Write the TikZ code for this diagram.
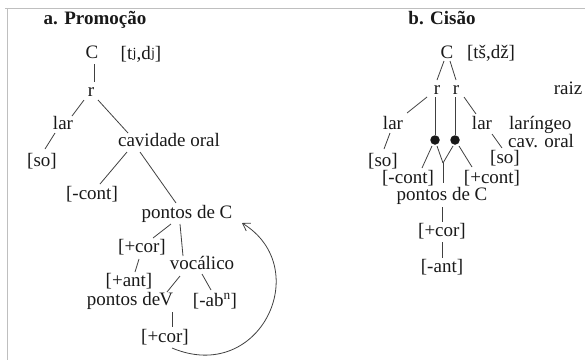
\documentclass[tikz,border=0pt]{standalone}
\usepackage{fontspec}
\setmainfont{Liberation Serif}
\usetikzlibrary{arrows.meta}
\begin{document}
\begin{tikzpicture}[x=1pt,y=-1pt,
  lbl/.style={inner sep=0pt, font=\fontsize{19}{19}\selectfont, text height=12pt, text depth=4pt, text=black!90},
  ttl/.style={inner sep=0pt, font=\fontsize{19}{19}\selectfont\bfseries, text height=12pt, text depth=4pt, text=black!90},
  edge/.style={draw=black!75, line width=0.8pt},
  dotnode/.style={circle, fill=black!90, inner sep=0pt, minimum size=9.5pt},
  framel/.style={draw=black!25, line width=1pt}]
\useasboundingbox (0,0) rectangle (585,360);
% frame
\draw[framel] (5,8) -- (585,8);
\draw[framel] (7,8) -- (7,360);

% ---------- a. Promocao ----------
\node[ttl] (tA) at (95,20) {a. Promoção};
\node[lbl] (C1) at (92,54) {C};
\node[lbl] (tj) at (141,55) {[t\kern0.3pt\raisebox{2pt}{\fontsize{14}{14}\selectfont j},d\kern0.3pt\raisebox{2pt}{\fontsize{14}{14}\selectfont j}]};
\node[lbl] (r1) at (91,92) {r};
\node[lbl] (lar) at (63,125) {lar};
\node[lbl] (cav) at (169,142) {cavidade oral};
\node[lbl] (so) at (42,162) {[so]};
\node[lbl] (cont) at (92,195) {[-cont]};
\node[lbl] (pc) at (187,214) {pontos de C};
\node[lbl] (cor1) at (142,248) {[+cor]};
\node[lbl] (voc) at (202,265) {vocálico};
\node[lbl] (ant) at (129,282) {[+ant]};
\node[lbl] (pv) at (130,301) {pontos de\kern-1pt V};
\node[lbl] (ab) at (215,302) {[-ab\textsuperscript{n}]};
\node[lbl] (cor2) at (165,338) {[+cor]};

\draw[edge] ([shift={(2,10)}]C1.center) -- ([shift={(3,-10)}]r1.center);
\draw[edge] ([shift={(-7,8)}]r1.center) -- ([shift={(9,-9)}]lar.center);
\draw[edge] ([shift={(7,8)}]r1.center) -- ([shift={(-41,-9)}]cav.center);
\draw[edge] ([shift={(-8,8)}]lar.center) -- ([shift={(3,-13)}]so.center);
\draw[edge] ([shift={(-42,10)}]cav.center) -- ([shift={(8,-11)}]cont.center);
\draw[edge] ([shift={(-29,10)}]cav.center) -- ([shift={(-11,-11)}]pc.center);
\draw[edge] ([shift={(-16,10)}]pc.center) -- ([shift={(11,-10)}]cor1.center);
\draw[edge] ([shift={(-7,10)}]pc.center) -- ([shift={(-19,-9)}]voc.center);
\draw[edge] ([shift={(-3,11)}]cor1.center) -- ([shift={(6,-10)}]ant.center);
\draw[edge] ([shift={(-22,11)}]voc.center) -- ([shift={(37,-9)}]pv.center);
\draw[edge] ([shift={(0,9)}]voc.center) -- ([shift={(-4,-12)}]ab.center);
\draw[edge] ([shift={(42,11)}]pv.center) -- ([shift={(7,-11)}]cor2.center);
\draw[edge, -{Straight Barb[length=7pt,width=9pt]}]
  ([shift={(7,10)}]cor2.center) .. controls (260,385) and (315,268) .. ([shift={(55,9)}]pc.center);

% ---------- b. Cisao ----------
\node[ttl] (tB) at (442,20) {b. Cisão};
\node[lbl] (C2) at (447,54) {C};
\node[lbl] (ts) at (491,54) {[tš,dž]};
\node[lbl] (rA) at (437,90) {r};
\node[lbl] (rB) at (456,90) {r};
\node[lbl] (raiz) at (568,90) {raiz};
\node[lbl] (larL) at (393,125) {lar};
\node[lbl] (larR) at (482,125) {lar};
\node[lbl, anchor=west] (lrg) at (509,125) {laríngeo};
\node[lbl, anchor=west] (cvo) at (508,143) {cav. oral};
\node[dotnode] (dotA) at (435,140) {};
\node[dotnode] (dotB) at (455,140) {};
\node[lbl] (soL) at (383,162) {[so]};
\node[lbl] (soR) at (505,159) {[so]};
\node[lbl] (contL) at (408,179) {[-cont]};
\node[lbl] (contR) at (492,179) {[+cont]};
\coordinate (junc) at (443,163);
\node[lbl] (pc2) at (442,196) {pontos de C};
\node[lbl] (cor3) at (442,232) {[+cor]};
\node[lbl] (ant2) at (442,268) {[-ant]};

\draw[edge] ([shift={(-3,7)}]C2.center) -- ([shift={(0,-10)}]rA.center);
\draw[edge] ([shift={(3,7)}]C2.center) -- ([shift={(0,-10)}]rB.center);
\draw[edge] ([shift={(-10,7)}]rA.center) -- ([shift={(14,-12)}]larL.center);
\draw[edge] ([shift={(-2,7)}]rA.center) -- (dotA.north);
\draw[edge] ([shift={(-1,7)}]rB.center) -- (dotB.north);
\draw[edge] ([shift={(8,7)}]rB.center) -- ([shift={(-6,-11)}]larR.center);
\draw[edge] ([shift={(-3,8)}]larL.center) -- ([shift={(1,-13)}]soL.center);
\draw[edge] ([shift={(10,9)}]larR.center) -- ([shift={(-3,-11)}]soR.center);
\draw[edge] ([shift={(-3,6)}]dotA.center) -- ([shift={(14,-11)}]contL.center);
\draw[edge] ([shift={(2,6)}]dotA.center) -- (junc);
\draw[edge] ([shift={(-2,6)}]dotB.center) -- (junc);
\draw[edge] (junc) -- ([shift={(1,-13)}]pc2.center);
\draw[edge] ([shift={(4,6)}]dotB.center) -- ([shift={(-20,-12)}]contR.center);
\draw[edge] ([shift={(0,11)}]pc2.center) -- ([shift={(0,-10)}]cor3.center);
\draw[edge] ([shift={(0,10)}]cor3.center) -- ([shift={(0,-10)}]ant2.center);
\end{tikzpicture}
\end{document}
